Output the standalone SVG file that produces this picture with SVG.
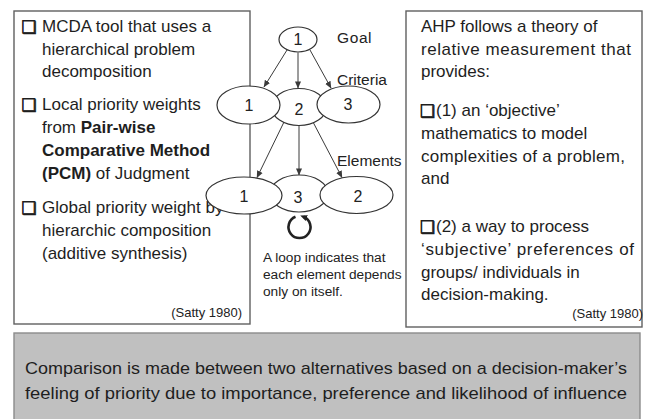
<svg xmlns="http://www.w3.org/2000/svg" width="652" height="419" viewBox="0 0 652 419">
<defs>
<style>
.t{font-family:"Liberation Sans",Arial,sans-serif;font-size:17px;fill:#1e1e1e}
.b{font-weight:bold}
.chk{font-family:"DejaVu Sans",sans-serif;font-size:17px;fill:#1e1e1e;stroke:#1e1e1e;stroke-width:0.7}
.box{fill:#fff;stroke:#606060;stroke-width:1.4}
.node ellipse{fill:#fff;stroke:#333;stroke-width:1.2}
.num{font-family:"Liberation Sans",Arial,sans-serif;font-size:16px;fill:#222;text-anchor:middle}
.lbl{font-family:"Liberation Sans",Arial,sans-serif;font-size:15.5px;fill:#222}
.cap{font-family:"Liberation Sans",Arial,sans-serif;font-size:13.7px;fill:#222}
.ref{font-family:"Liberation Sans",Arial,sans-serif;font-size:13px;fill:#222;text-anchor:end}
.edge{stroke:#3a3a3a;stroke-width:1;fill:none;marker-end:url(#ah)}
</style>
<marker id="ah" viewBox="0 0 8 8" refX="7.5" refY="4" markerWidth="7" markerHeight="7" markerUnits="userSpaceOnUse" orient="auto">
<path d="M0,0.5 L8,4 L0,7.5 z" fill="#3a3a3a"/>
</marker>
<marker id="lah" viewBox="0 0 8 8" refX="4" refY="4" markerWidth="7" markerHeight="7" markerUnits="userSpaceOnUse" orient="auto">
<path d="M0,0.5 L8,4 L0,7.5 z" fill="#222"/>
</marker>
</defs>
<rect width="652" height="419" fill="#fff"/>

<g id="left-box">
<rect class="box" x="14" y="11" width="236" height="313"/>
<text class="chk" x="21.5" y="33">❑</text>
<text class="t" x="42" y="32">MCDA tool that uses a</text>
<text class="t" x="42" y="55">hierarchical problem</text>
<text class="t" x="42" y="77">decomposition</text>
<text class="chk" x="21.5" y="111">❑</text>
<text class="t" x="42" y="110">Local priority weights</text>
<text class="t" x="42" y="133">from <tspan class="b">Pair-wise</tspan></text>
<text class="t b" x="42" y="156">Comparative Method</text>
<text class="t" x="42" y="179"><tspan class="b">(PCM)</tspan> of Judgment</text>
<text class="chk" x="21.5" y="214">❑</text>
<text class="t" x="42" y="213">Global priority weight by</text>
<text class="t" x="42" y="236">hierarchic composition</text>
<text class="t" x="42" y="259">(additive synthesis)</text>
<text class="ref" x="242" y="317">(Satty 1980)</text>
</g>

<g id="right-box">
<rect class="box" x="406" y="11" width="236" height="316"/>
<text class="t" x="421" y="32">AHP follows a theory of</text>
<text class="t" x="421" y="55" textLength="210" lengthAdjust="spacing">relative measurement that</text>
<text class="t" x="421" y="77">provides:</text>
<text class="chk" x="420" y="117">❑</text>
<text class="t" x="436" y="116">(1) an ‘objective’</text>
<text class="t" x="421" y="139">mathematics to model</text>
<text class="t" x="421" y="162" textLength="204" lengthAdjust="spacing">complexities of a problem,</text>
<text class="t" x="421" y="184">and</text>
<text class="chk" x="420" y="233">❑</text>
<text class="t" x="436" y="232">(2) a way to process</text>
<text class="t" x="421" y="255" textLength="213" lengthAdjust="spacing">‘subjective’ preferences of</text>
<text class="t" x="421" y="278">groups/ individuals in</text>
<text class="t" x="421" y="300">decision-making.</text>
<text class="ref" x="643" y="318">(Satty 1980)</text>
</g>

<g id="bottom-box">
<rect x="14" y="333" width="626" height="95" fill="#c0c0c0" stroke="#8c8c8c" stroke-width="1.4"/>
<text class="t" x="25" y="374" textLength="602" lengthAdjust="spacingAndGlyphs">Comparison is made between two alternatives based on a decision-maker’s</text>
<text class="t" x="25" y="399" textLength="602" lengthAdjust="spacingAndGlyphs">feeling of priority due to importance, preference and likelihood of influence</text>
</g>

<g id="connectors">
<line class="edge" x1="287" y1="50" x2="264" y2="87"/>
<line class="edge" x1="298" y1="52.5" x2="298" y2="88"/>
<line class="edge" x1="310" y1="50" x2="331" y2="88"/>
<line class="edge" x1="284" y1="122" x2="257" y2="177.5"/>
<line class="edge" x1="299" y1="125.5" x2="299" y2="175"/>
<line class="edge" x1="313" y1="122" x2="342" y2="177.5"/>
<path d="M295.5,216.8 A11,11 0 1,0 303.5,216.8" fill="none" stroke="#222" stroke-width="2.6" marker-end="url(#lah)"/>
</g>

<g id="goal" class="node">
<ellipse cx="298" cy="39.5" rx="19" ry="12.5"/>
<text class="num" x="298" y="45">1</text>
</g>
<g id="criterion-2" class="node">
<ellipse cx="299" cy="107" rx="27.5" ry="18.5"/>
<text class="num" x="299" y="115">2</text>
</g>
<g id="criterion-1" class="node">
<ellipse cx="248.5" cy="105" rx="31.5" ry="19"/>
<text class="num" x="249" y="111">1</text>
</g>
<g id="criterion-3" class="node">
<ellipse cx="348.5" cy="104.5" rx="31.5" ry="18.5"/>
<text class="num" x="348" y="110">3</text>
</g>
<g id="element-3" class="node">
<ellipse cx="299" cy="193.5" rx="29" ry="18.5"/>
<text class="num" x="298" y="203">3</text>
</g>
<g id="element-1" class="node">
<ellipse cx="244" cy="195.5" rx="38" ry="18.5"/>
<text class="num" x="244" y="202">1</text>
</g>
<g id="element-2" class="node">
<ellipse cx="356.5" cy="195" rx="36.5" ry="18.5"/>
<text class="num" x="358" y="202">2</text>
</g>

<g id="labels">
<text class="lbl" x="337" y="43" letter-spacing="0.6">Goal</text>
<text class="lbl" x="337" y="85">Criteria</text>
<text class="lbl" x="337" y="166">Elements</text>
<text class="cap" x="263" y="262">A loop indicates that</text>
<text class="cap" x="263" y="279">each element depends</text>
<text class="cap" x="263" y="296">only on itself.</text>
</g>
</svg>
